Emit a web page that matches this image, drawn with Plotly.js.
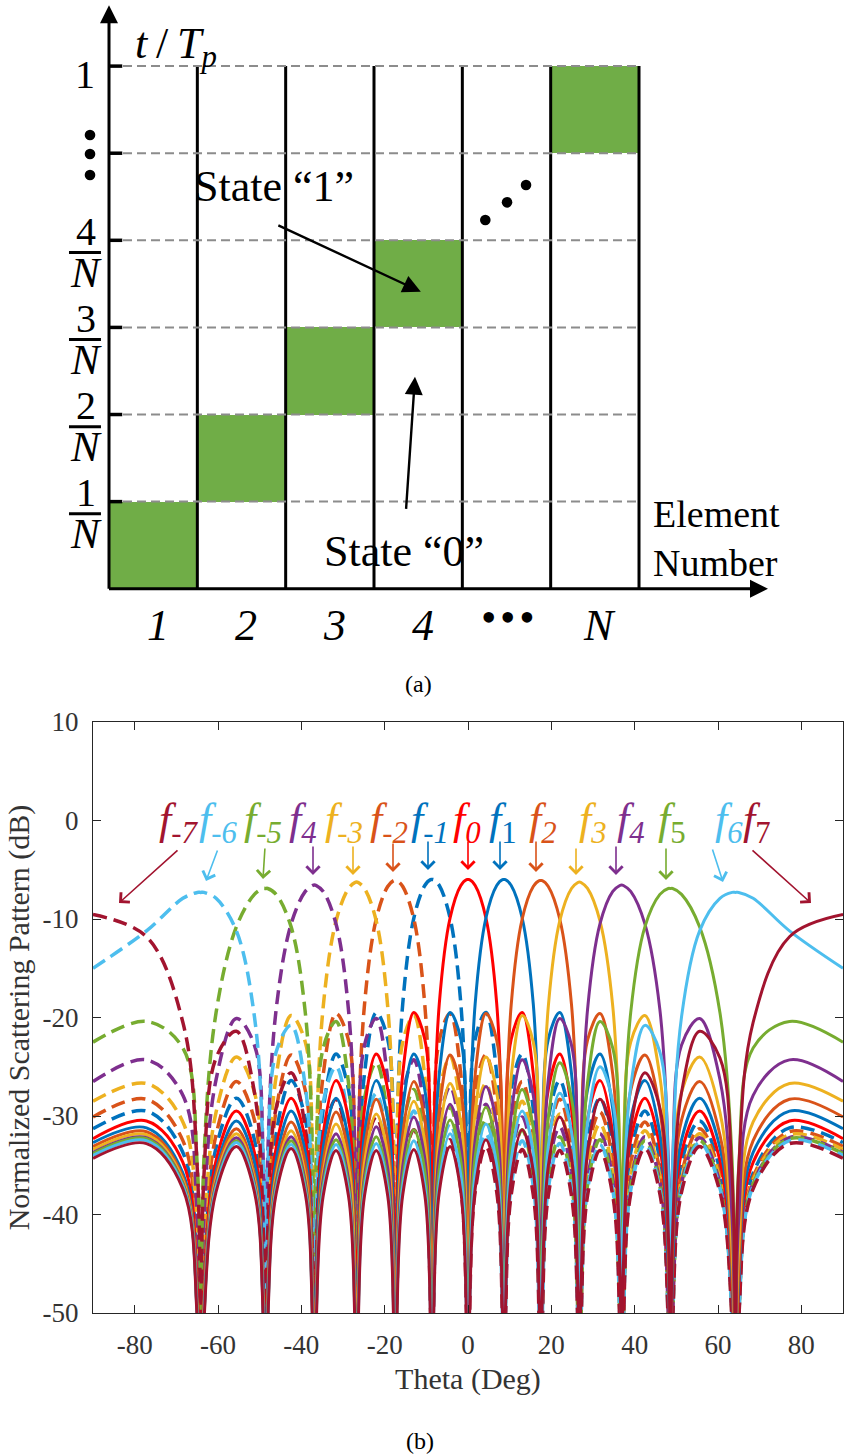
<!DOCTYPE html>
<html><head><meta charset="utf-8">
<script src="https://cdn.plot.ly/plotly-3.0.1.min.js"></script>
<style>html,body{margin:0;padding:0;background:#fff;}#chart{width:845px;height:1456px;}</style>
</head><body><div id="chart"></div>
<script>
// ---------------- panel (b) data ----------------
const theta = [
-90, -77.16, -68.43, -64.96, -64.16,
-63.39, -60.46, -55.59, -51.26, -49.11, -48.59,
-48.07, -46.05, -42.45, -39.05, -37.30, -36.87,
-36.44, -34.75, -31.67, -28.69, -27.13, -26.74,
-26.36, -24.84, -22.02, -19.27, -17.82, -17.46,
-17.10, -15.66, -13.00, -10.37, -8.98, -8.63,
-8.28, -6.89, -4.30, -1.72, -0.34, 0,
0.34, 1.72, 4.30, 6.89, 8.28, 8.63,
8.98, 10.37, 13.00, 15.66, 17.10, 17.46,
17.82, 19.27, 22.02, 24.84, 26.36, 26.74,
27.13, 28.69, 31.67, 34.75, 36.44, 36.87,
37.30, 39.05, 42.45, 46.05, 48.07, 48.59,
49.11, 51.26, 55.59, 60.46, 63.39, 64.16,
64.96, 68.43, 77.16, 90];

const f0 = [
-32.3, -30.5, -34.7, -48.0, -75,
-48.1, -34.5, -29.5, -33.7, -47.0, -75,
-46.8, -33.2, -28.2, -32.4, -45.7, -75,
-45.6, -31.8, -26.4, -30.3, -43.3, -75,
-43.3, -29.3, -23.7, -27.3, -40.0, -75,
-39.9, -25.7, -19.5, -22.2, -34.3, -75,
-33.6, -18.6, -9.9, -6.6, -6.0, -6.0,
-6.0, -6.6, -9.9, -18.6, -33.6, -75,
-34.3, -22.2, -19.5, -25.7, -39.9, -75,
-40.0, -27.3, -23.7, -29.3, -43.3, -75,
-43.3, -30.3, -26.4, -31.8, -45.6, -75,
-45.7, -32.4, -28.2, -33.2, -46.8, -75,
-47.0, -33.7, -29.5, -34.5, -48.1, -75,
-48.0, -34.7, -30.5, -32.3];

const f1 = [
-32.7, -31.2, -35.8, -49.2, -75,
-49.1, -35.5, -30.5, -34.7, -48.0, -75,
-48.1, -34.5, -29.5, -33.7, -47.0, -75,
-46.8, -33.2, -28.2, -32.4, -45.7, -75,
-45.6, -31.8, -26.4, -30.3, -43.3, -75,
-43.3, -29.3, -23.7, -27.3, -40.0, -75,
-39.9, -25.7, -19.5, -22.2, -34.3, -75,
-33.6, -18.6, -9.9, -6.6, -6.0, -6.0,
-6.0, -6.6, -9.9, -18.6, -33.6, -75,
-34.3, -22.2, -19.5, -25.7, -39.9, -75,
-40.0, -27.3, -23.7, -29.3, -43.3, -75,
-43.3, -30.3, -26.4, -31.8, -45.6, -75,
-45.7, -32.4, -28.2, -33.2, -46.8, -75,
-47.0, -33.7, -29.5, -31.3];

const fM1 = [
-31.3, -29.5, -33.7, -47.0, -75,
-46.8, -33.2, -28.2, -32.4, -45.7, -75,
-45.6, -31.8, -26.4, -30.3, -43.3, -75,
-43.3, -29.3, -23.7, -27.3, -40.0, -75,
-39.9, -25.7, -19.5, -22.2, -34.3, -75,
-33.6, -18.6, -9.9, -6.6, -6.0, -6.0,
-6.0, -6.6, -9.9, -18.6, -33.6, -75,
-34.3, -22.2, -19.5, -25.7, -39.9, -75,
-40.0, -27.3, -23.7, -29.3, -43.3, -75,
-43.3, -30.3, -26.4, -31.8, -45.6, -75,
-45.7, -32.4, -28.2, -33.2, -46.8, -75,
-47.0, -33.7, -29.5, -34.5, -48.1, -75,
-48.0, -34.7, -30.5, -35.5, -49.1, -75,
-49.2, -35.8, -31.2, -32.7];

const f2 = [
-33.1, -31.6, -36.2, -49.6, -75,
-49.3, -35.9, -31.3, -35.9, -49.3, -75,
-49.2, -35.6, -30.6, -34.8, -48.1, -75,
-48.2, -34.6, -29.6, -33.8, -47.1, -75,
-46.9, -33.3, -28.3, -32.5, -45.8, -75,
-45.7, -31.9, -26.5, -30.4, -43.4, -75,
-43.4, -29.4, -23.8, -27.4, -40.1, -75,
-40.0, -25.8, -19.6, -22.3, -34.4, -75,
-33.7, -18.7, -10.0, -6.7, -6.1, -6.1,
-6.1, -6.7, -10.0, -18.7, -33.7, -75,
-34.4, -22.3, -19.6, -25.8, -40.0, -75,
-40.1, -27.4, -23.8, -29.4, -43.4, -75,
-43.4, -30.4, -26.5, -31.9, -45.7, -75,
-45.8, -32.5, -28.3, -30.1];

const fM2 = [
-30.1, -28.3, -32.5, -45.8, -75,
-45.7, -31.9, -26.5, -30.4, -43.4, -75,
-43.4, -29.4, -23.8, -27.4, -40.1, -75,
-40.0, -25.8, -19.6, -22.3, -34.4, -75,
-33.7, -18.7, -10.0, -6.7, -6.1, -6.1,
-6.1, -6.7, -10.0, -18.7, -33.7, -75,
-34.4, -22.3, -19.6, -25.8, -40.0, -75,
-40.1, -27.4, -23.8, -29.4, -43.4, -75,
-43.4, -30.4, -26.5, -31.9, -45.7, -75,
-45.8, -32.5, -28.3, -33.3, -46.9, -75,
-47.1, -33.8, -29.6, -34.6, -48.2, -75,
-48.1, -34.8, -30.6, -35.6, -49.2, -75,
-49.3, -35.9, -31.3, -35.9, -49.3, -75,
-49.6, -36.2, -31.6, -33.1];

const f3 = [
-33.4, -31.9, -36.5, -49.9, -75,
-49.8, -36.4, -31.8, -36.4, -49.8, -75,
-49.5, -36.1, -31.5, -36.1, -49.5, -75,
-49.4, -35.8, -30.8, -35.0, -48.3, -75,
-48.4, -34.8, -29.8, -34.0, -47.3, -75,
-47.1, -33.5, -28.5, -32.7, -46.0, -75,
-45.9, -32.1, -26.7, -30.6, -43.6, -75,
-43.6, -29.6, -24.0, -27.6, -40.3, -75,
-40.2, -26.0, -19.8, -22.5, -34.6, -75,
-33.9, -18.9, -10.2, -6.9, -6.3, -6.25,
-6.3, -6.9, -10.2, -18.9, -33.9, -75,
-34.6, -22.5, -19.8, -26.0, -40.2, -75,
-40.3, -27.6, -24.0, -29.6, -43.6, -75,
-43.6, -30.6, -26.7, -28.5];

const fM3 = [
-28.5, -26.7, -30.6, -43.6, -75,
-43.6, -29.6, -24.0, -27.6, -40.3, -75,
-40.2, -26.0, -19.8, -22.5, -34.6, -75,
-33.9, -18.9, -10.2, -6.9, -6.3, -6.25,
-6.3, -6.9, -10.2, -18.9, -33.9, -75,
-34.6, -22.5, -19.8, -26.0, -40.2, -75,
-40.3, -27.6, -24.0, -29.6, -43.6, -75,
-43.6, -30.6, -26.7, -32.1, -45.9, -75,
-46.0, -32.7, -28.5, -33.5, -47.1, -75,
-47.3, -34.0, -29.8, -34.8, -48.4, -75,
-48.3, -35.0, -30.8, -35.8, -49.4, -75,
-49.5, -36.1, -31.5, -36.1, -49.5, -75,
-49.8, -36.4, -31.8, -36.4, -49.8, -75,
-49.9, -36.5, -31.9, -33.4];

const f4 = [
-33.7, -32.2, -36.8, -50.2, -75,
-50.2, -36.8, -32.2, -36.8, -50.2, -75,
-50.1, -36.7, -32.1, -36.7, -50.1, -75,
-49.8, -36.4, -31.8, -36.4, -49.8, -75,
-49.7, -36.1, -31.1, -35.3, -48.6, -75,
-48.7, -35.1, -30.1, -34.3, -47.6, -75,
-47.4, -33.8, -28.8, -33.0, -46.3, -75,
-46.2, -32.4, -27.0, -30.9, -43.9, -75,
-43.9, -29.9, -24.3, -27.9, -40.6, -75,
-40.5, -26.3, -20.1, -22.8, -34.9, -75,
-34.2, -19.2, -10.5, -7.2, -6.6, -6.55,
-6.6, -7.2, -10.5, -19.2, -34.2, -75,
-34.9, -22.8, -20.1, -26.3, -40.5, -75,
-40.6, -27.9, -24.3, -26.5];

const fM4 = [
-26.5, -24.3, -27.9, -40.6, -75,
-40.5, -26.3, -20.1, -22.8, -34.9, -75,
-34.2, -19.2, -10.5, -7.2, -6.6, -6.55,
-6.6, -7.2, -10.5, -19.2, -34.2, -75,
-34.9, -22.8, -20.1, -26.3, -40.5, -75,
-40.6, -27.9, -24.3, -29.9, -43.9, -75,
-43.9, -30.9, -27.0, -32.4, -46.2, -75,
-46.3, -33.0, -28.8, -33.8, -47.4, -75,
-47.6, -34.3, -30.1, -35.1, -48.7, -75,
-48.6, -35.3, -31.1, -36.1, -49.7, -75,
-49.8, -36.4, -31.8, -36.4, -49.8, -75,
-50.1, -36.7, -32.1, -36.7, -50.1, -75,
-50.2, -36.8, -32.2, -36.8, -50.2, -75,
-50.2, -36.8, -32.2, -33.7];

const f5 = [
-33.8, -32.3, -36.9, -50.3, -75,
-50.5, -37.1, -32.5, -37.1, -50.5, -75,
-50.5, -37.1, -32.5, -37.1, -50.5, -75,
-50.4, -37.0, -32.4, -37.0, -50.4, -75,
-50.1, -36.7, -32.1, -36.7, -50.1, -75,
-50.0, -36.4, -31.4, -35.6, -48.9, -75,
-49.0, -35.4, -30.4, -34.6, -47.9, -75,
-47.7, -34.1, -29.1, -33.3, -46.6, -75,
-46.5, -32.7, -27.3, -31.2, -44.2, -75,
-44.2, -30.2, -24.6, -28.2, -40.9, -75,
-40.8, -26.6, -20.4, -23.1, -35.2, -75,
-34.5, -19.5, -10.8, -7.5, -6.9, -6.9,
-6.9, -7.5, -10.8, -19.5, -34.5, -75,
-35.2, -23.1, -20.4, -22.5];

const fM5 = [
-22.5, -20.4, -23.1, -35.2, -75,
-34.5, -19.5, -10.8, -7.5, -6.9, -6.9,
-6.9, -7.5, -10.8, -19.5, -34.5, -75,
-35.2, -23.1, -20.4, -26.6, -40.8, -75,
-40.9, -28.2, -24.6, -30.2, -44.2, -75,
-44.2, -31.2, -27.3, -32.7, -46.5, -75,
-46.6, -33.3, -29.1, -34.1, -47.7, -75,
-47.9, -34.6, -30.4, -35.4, -49.0, -75,
-48.9, -35.6, -31.4, -36.4, -50.0, -75,
-50.1, -36.7, -32.1, -36.7, -50.1, -75,
-50.4, -37.0, -32.4, -37.0, -50.4, -75,
-50.5, -37.1, -32.5, -37.1, -50.5, -75,
-50.5, -37.1, -32.5, -37.1, -50.5, -75,
-50.3, -36.9, -32.3, -33.8];

const f6 = [
-34.0, -32.5, -37.1, -50.5, -75,
-50.7, -37.3, -32.7, -37.3, -50.7, -75,
-50.9, -37.5, -32.9, -37.5, -50.9, -75,
-50.9, -37.5, -32.9, -37.5, -50.9, -75,
-50.8, -37.4, -32.8, -37.4, -50.8, -75,
-50.5, -37.1, -32.5, -37.1, -50.5, -75,
-50.4, -36.8, -31.8, -36.0, -49.3, -75,
-49.4, -35.8, -30.8, -35.0, -48.3, -75,
-48.1, -34.5, -29.5, -33.7, -47.0, -75,
-46.9, -33.1, -27.7, -31.6, -44.6, -75,
-44.6, -30.6, -25.0, -28.6, -41.3, -75,
-41.2, -27.0, -20.8, -23.5, -35.6, -75,
-34.9, -19.9, -11.2, -7.9, -7.3, -7.3,
-7.3, -7.9, -11.2, -15.0];

const fM6 = [
-15.0, -11.2, -7.9, -7.3, -7.3,
-7.3, -7.9, -11.2, -19.9, -34.9, -75,
-35.6, -23.5, -20.8, -27.0, -41.2, -75,
-41.3, -28.6, -25.0, -30.6, -44.6, -75,
-44.6, -31.6, -27.7, -33.1, -46.9, -75,
-47.0, -33.7, -29.5, -34.5, -48.1, -75,
-48.3, -35.0, -30.8, -35.8, -49.4, -75,
-49.3, -36.0, -31.8, -36.8, -50.4, -75,
-50.5, -37.1, -32.5, -37.1, -50.5, -75,
-50.8, -37.4, -32.8, -37.4, -50.8, -75,
-50.9, -37.5, -32.9, -37.5, -50.9, -75,
-50.9, -37.5, -32.9, -37.5, -50.9, -75,
-50.7, -37.3, -32.7, -37.3, -50.7, -75,
-50.5, -37.1, -32.5, -34.0];

const f7 = [
-34.3, -32.8, -37.4, -50.8, -75,
-51.1, -37.7, -33.1, -37.7, -51.1, -75,
-51.3, -37.9, -33.3, -37.9, -51.3, -75,
-51.5, -38.1, -33.5, -38.1, -51.5, -75,
-51.5, -38.1, -33.5, -38.1, -51.5, -75,
-51.4, -38.0, -33.4, -38.0, -51.4, -75,
-51.1, -37.7, -33.1, -37.7, -51.1, -75,
-51.0, -37.4, -32.4, -36.6, -49.9, -75,
-50.0, -36.4, -31.4, -35.6, -48.9, -75,
-48.7, -35.1, -30.1, -34.3, -47.6, -75,
-47.5, -33.7, -28.3, -32.2, -45.2, -75,
-45.2, -31.2, -25.6, -29.2, -41.9, -75,
-41.8, -27.6, -21.4, -24.1, -36.2, -75,
-35.5, -20.5, -11.8, -9.55];

const fM7 = [
-9.55, -11.8, -20.5, -35.5, -75,
-36.2, -24.1, -21.4, -27.6, -41.8, -75,
-41.9, -29.2, -25.6, -31.2, -45.2, -75,
-45.2, -32.2, -28.3, -33.7, -47.5, -75,
-47.6, -34.3, -30.1, -35.1, -48.7, -75,
-48.9, -35.6, -31.4, -36.4, -50.0, -75,
-49.9, -36.6, -32.4, -37.4, -51.0, -75,
-51.1, -37.7, -33.1, -37.7, -51.1, -75,
-51.4, -38.0, -33.4, -38.0, -51.4, -75,
-51.5, -38.1, -33.5, -38.1, -51.5, -75,
-51.5, -38.1, -33.5, -38.1, -51.5, -75,
-51.3, -37.9, -33.3, -37.9, -51.3, -75,
-51.1, -37.7, -33.1, -37.7, -51.1, -75,
-50.8, -37.4, -32.8, -34.3];

const thetaTicks = [-80, -60, -40, -20, 0, 20, 40, 60, 80];
const thetaTickText = ['-80', '-60', '-40', '-20', '0', '20', '40', '60', '80'];
const dbTicks = [-50, -40, -30, -20, -10, 0, 10];
const dbTickText = ['-50', '-40', '-30', '-20', '-10', '0', '10'];

// harmonic labels (as printed in the figure) and the harmonic each one points to
const labelSubs = ['-7', '-6', '-5', '4', '-3', '-2', '-1', '0', '1', '2', '3', '4', '5', '6', '7'];
const labelHarmonic = [-7, -6, -5, -4, -3, -2, -1, 0, 1, 2, 3, 4, 5, 6, 7];

// ---------------- panel (a) data ----------------
const elementLabels = ['1', '2', '3', '4', '\u2022\u200a\u2022\u200a\u2022', 'N'];
const elementIndex = [1, 2, 3, 4, 5, 6];
const stateOneElement = [1, 2, 3, 4, 6];
const stateOneSlotStart = [0, 1, 2, 3, 5];
const stateOneDuration = [1, 1, 1, 1, 1];
const slotNumerators = ['1', '2', '3', '4'];

// ---------------- build ----------------
const palette = {0:'#FF0000', 1:'#0072BD', 2:'#D95319', 3:'#EDB120', 4:'#7E2F8E', 5:'#77AC30', 6:'#4DBEEE', 7:'#A2142F'};
const seriesByHarmonic = {
  '-7': fM7, '-6': fM6, '-5': fM5, '-4': fM4, '-3': fM3, '-2': fM2, '-1': fM1,
  '0': f0, '1': f1, '2': f2, '3': f3, '4': f4, '5': f5, '6': f6, '7': f7
};
const drawOrder = [-1, -2, -3, -4, -5, -6, -7, 0, 1, 2, 3, 4, 5, 6, 7];

const SERIF = '"Liberation Serif", "Times New Roman", serif';
const traces = [];
drawOrder.forEach(h => {
  traces.push({
    type: 'scatter', mode: 'lines', x: theta, y: seriesByHarmonic[String(h)],
    xaxis: 'x', yaxis: 'y', name: 'f' + h, hoverinfo: 'skip',
    line: {color: palette[Math.abs(h)], width: h < 0 ? 3.5 : 3, dash: h < 0 ? '14px,7px' : 'solid', shape: 'spline', smoothing: 1}
  });
});

traces.push({
  type: 'bar', x: stateOneElement, y: stateOneDuration, base: stateOneSlotStart, width: 1,
  xaxis: 'x2', yaxis: 'y2', marker: {color: '#70AD47', line: {width: 0}}, hoverinfo: 'skip', name: 'State 1'
});

const W = 845, H = 1456;
const px = x => x / W, py = y => 1 - y / H;

const shapes = [];
// vertical element separators
for (let c = 1; c <= 6; c++) {
  shapes.push({type:'line', xref:'x2', yref:'y2', x0:c + 0.5, x1:c + 0.5, y0:0, y1:6, line:{color:'#000', width:3}});
}
// dashed slot lines and y ticks
for (let r = 1; r <= 6; r++) {
  shapes.push({type:'line', xref:'x2', yref:'y2', x0:0.5, x1:6.5, y0:r, y1:r, line:{color:'#8C8C8C', width:2, dash:'9px,5px'}});
  shapes.push({type:'line', xref:'x2', yref:'y2', x0:0.5, x1:0.65, y0:r, y1:r, line:{color:'#000', width:3.5}});
}
// fraction bars
for (let k = 1; k <= 4; k++) {
  shapes.push({type:'line', xref:'x2', yref:'y2', x0:0.047, x1:0.409, y0:k - 0.14, y1:k - 0.14, line:{color:'#000', width:3}});
}
// ellipsis dots (vertical on the time axis, diagonal in the grid)
const dotR = [0.06, 0.061];
[[0.285, 5.209], [0.285, 4.991], [0.285, 4.750], [4.760, 4.233], [5.006, 4.436], [5.221, 4.635]].forEach(p => {
  shapes.push({type:'circle', xref:'x2', yref:'y2', x0:p[0] - dotR[0], x1:p[0] + dotR[0], y0:p[1] - dotR[1], y1:p[1] + dotR[1], fillcolor:'#000', line:{width:0}});
});

const ann = [];
// axis arrows of panel (a)
ann.push({xref:'x2', yref:'y2', axref:'x2', ayref:'y2', x:0.5, y:6.70, ax:0.5, ay:-0.017, text:'', showarrow:true, arrowhead:2, arrowsize:1.2, arrowwidth:3, arrowcolor:'#000'});
ann.push({xref:'x2', yref:'y2', axref:'x2', ayref:'y2', x:7.96, y:0, ax:0.483, ay:0, text:'', showarrow:true, arrowhead:2, arrowsize:1.2, arrowwidth:3, arrowcolor:'#000'});
// state arrows
ann.push({xref:'x2', yref:'y2', axref:'x2', ayref:'y2', x:4.03, y:3.41, ax:2.40, ay:4.18, text:'', showarrow:true, arrowhead:2, arrowsize:1.5, arrowwidth:2.4, arrowcolor:'#000'});
ann.push({xref:'x2', yref:'y2', axref:'x2', ayref:'y2', x:3.964, y:2.434, ax:3.862, ay:0.90, text:'', showarrow:true, arrowhead:2, arrowsize:1.5, arrowwidth:2.4, arrowcolor:'#000'});
// texts panel (a)
ann.push({xref:'x2', yref:'y2', x:1.44, y:4.62, xanchor:'left', yanchor:'middle', text:'State \u201c1\u201d', showarrow:false, font:{family:SERIF, size:44, color:'#000'}});
ann.push({xref:'x2', yref:'y2', x:2.91, y:0.43, xanchor:'left', yanchor:'middle', text:'State \u201c0\u201d', showarrow:false, font:{family:SERIF, size:44, color:'#000'}});
ann.push({xref:'x2', yref:'y2', x:6.64, y:0.58, xanchor:'left', yanchor:'middle', align:'left', text:'Element<br>Number', showarrow:false, font:{family:SERIF, size:38, color:'#000'}});
ann.push({xref:'x2', yref:'y2', x:0.77, y:6.22, xanchor:'left', yanchor:'middle', text:'<i>t</i>\u2009/\u2009<i>T</i><sub><i>p</i></sub>', showarrow:false, font:{family:SERIF, size:44, color:'#000'}});
elementIndex.forEach((c, i) => {
  const isDots = elementLabels[i].indexOf('\u2022') >= 0;
  ann.push({xref:'x2', yref:'y2', x:c + (isDots ? 0.02 : 0.05), y:isDots ? -0.33 : -0.42, xanchor:'center', yanchor:'middle',
    text:isDots ? elementLabels[i] : '<i>' + elementLabels[i] + '</i>', showarrow:false,
    font:{family:SERIF, size:isDots ? 44 : 44, color:'#000'}});
});
// y labels of panel (a)
ann.push({xref:'x2', yref:'y2', x:0.23, y:5.90, xanchor:'center', yanchor:'middle', text:'1', showarrow:false, font:{family:SERIF, size:40, color:'#000'}});
slotNumerators.forEach((s, i) => {
  const k = i + 1;
  ann.push({xref:'x2', yref:'y2', x:0.235, y:k + 0.10, xanchor:'center', yanchor:'middle', text:s, showarrow:false, font:{family:SERIF, size:40, color:'#000'}});
  ann.push({xref:'x2', yref:'y2', x:0.235, y:k - 0.37, xanchor:'center', yanchor:'middle', text:'<i>N</i>', showarrow:false, font:{family:SERIF, size:43, color:'#000'}});
});
// captions
ann.push({xref:'paper', yref:'paper', x:px(418), y:py(684), xanchor:'center', yanchor:'middle', text:'(a)', showarrow:false, font:{family:SERIF, size:24, color:'#000'}});
ann.push({xref:'paper', yref:'paper', x:px(420), y:py(1441), xanchor:'center', yanchor:'middle', text:'(b)', showarrow:false, font:{family:SERIF, size:24, color:'#000'}});

// harmonic labels panel (b)
const labelLeft = [157, 197, 242, 287, 323, 368, 409, 451, 487, 527, 577, 615, 656, 713, 741];
const arrowTail = [[179,849],[218,849],[265,847],[313,845],[353,845],[393,842],[428,840],[468,840],[500,840],[536,840],[576,847],[616,845],[666,847],[712,848],[751,849]];
const arrowTip = [[119,903],[206,881],[263,879],[313,875],[353,875],[393,872],[428,870],[468,870],[500,870],[536,872],[576,875],[616,875],[666,880],[723,882],[811,903]];
labelSubs.forEach((s, i) => {
  const c = palette[Math.abs(labelHarmonic[i])];
  const upright = (s === '1' || s === '5' || s === '7');
  ann.push({xref:'paper', yref:'paper', x:px(labelLeft[i]), y:py(822), xanchor:'left', yanchor:'middle', showarrow:false,
    text:'<i>f</i><sub>' + (upright ? s : '<i>' + s + '</i>') + '</sub>', font:{family:SERIF, size:44, color:c}});
  const t0 = arrowTail[i], t1 = arrowTip[i];
  ann.push({xref:'paper', yref:'paper', x:px(t1[0]), y:py(t1[1]), ax:t0[0] - t1[0], ay:t0[1] - t1[1], text:'', showarrow:true,
    arrowhead:4, arrowsize:1.6, arrowwidth:1.6, arrowcolor:c});
});

const axisCommon = {showline:true, linecolor:'#262626', linewidth:1, mirror:'ticks', ticks:'inside', ticklen:8, tickcolor:'#262626', showgrid:false, zeroline:false, tickfont:{family:SERIF, size:27, color:'#333'}};

const layout = {
  width:W, height:H, margin:{l:0, r:0, t:0, b:0}, paper_bgcolor:'#fff', plot_bgcolor:'rgba(0,0,0,0)', showlegend:false, hovermode:false,
  font:{family:SERIF, color:'#333'},
  xaxis: Object.assign({}, axisCommon, {domain:[93/W, 843/W], range:[-90, 90], anchor:'y', tickmode:'array', tickvals:thetaTicks, ticktext:thetaTickText, ticklabelstandoff:8,
    title:{text:'Theta (Deg)', font:{family:SERIF, size:30, color:'#333'}, standoff:8}}),
  yaxis: Object.assign({}, axisCommon, {domain:[1 - 1313/H, 1 - 722/H], range:[-50, 10], anchor:'x', tickmode:'array', tickvals:dbTicks, ticktext:dbTickText, ticklabelstandoff:8,
    title:{text:'Normalized Scattering Pattern (dB)', font:{family:SERIF, size:30, color:'#333'}, standoff:4}}),
  xaxis2:{domain:[0, 1], range:[-0.734, 8.832], anchor:'y2', visible:false, fixedrange:true},
  yaxis2:{domain:[0.5, 1], range:[-1.599, 6.759], anchor:'x2', visible:false, fixedrange:true},
  shapes: shapes,
  annotations: ann,
  bargap: 0
};

Plotly.newPlot('chart', traces, layout, {staticPlot:true, displayModeBar:false});
</script>
</body></html>
